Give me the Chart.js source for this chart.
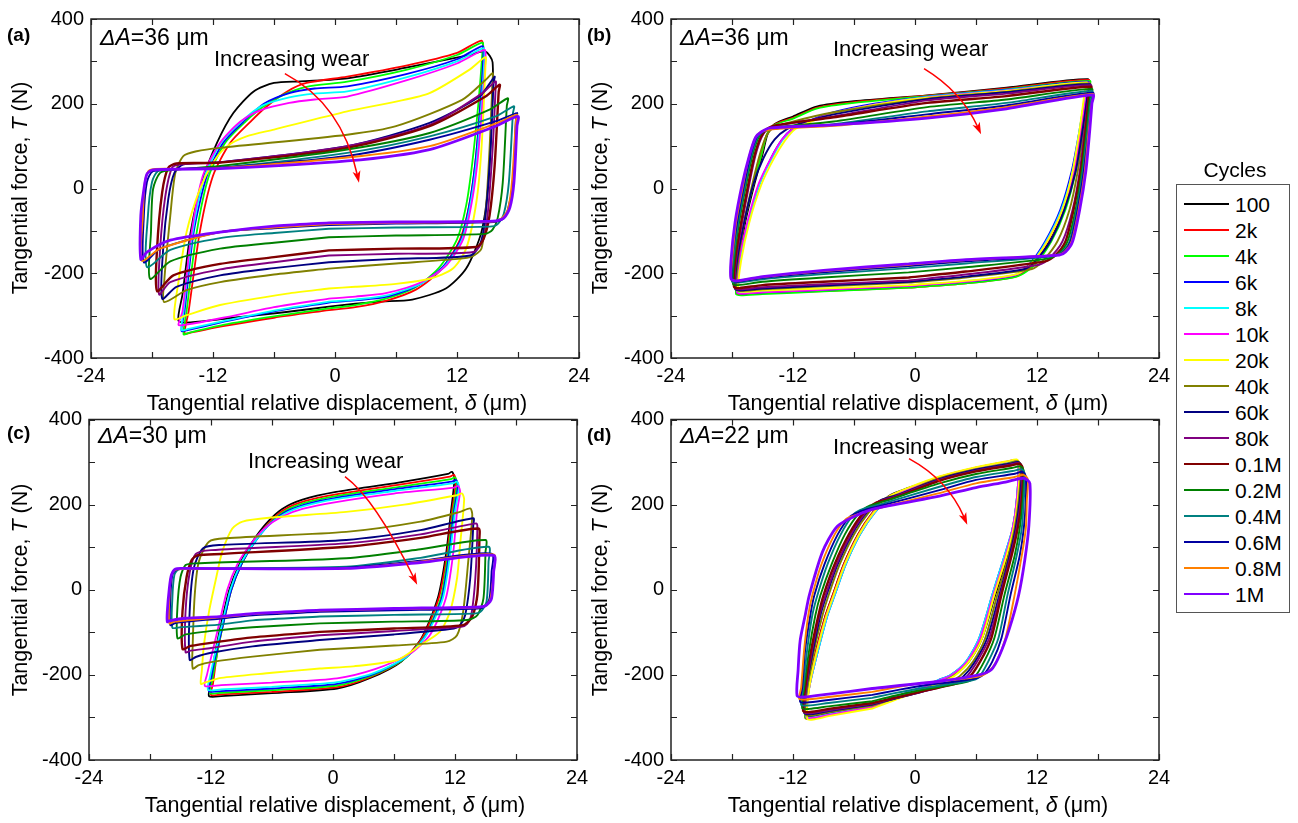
<!DOCTYPE html>
<html><head><meta charset="utf-8">
<script src="https://cdn.jsdelivr.net/npm/chart.js@4.4.1/dist/chart.umd.min.js"></script>
<style>
html,body{margin:0;padding:0;background:#fff}
body{width:1298px;height:823px;overflow:hidden;position:relative;font-family:"Liberation Sans",Arial,sans-serif;color:#000}
canvas{position:absolute}
.t{position:absolute;white-space:nowrap;line-height:1}
.xt{font-size:21.5px;transform:translate(-50%,-50%)}
.yt{font-size:21.5px;transform:translate(-50%,-50%) rotate(-90deg)}
.lt{font-size:19px;font-weight:bold}
.amp{font-size:23px}
.iw{font-size:22px}
#legend{position:absolute;left:1176px;top:184px;width:112px;height:427px;border:1.5px solid #555;z-index:5;background:#fff}
.lline{position:absolute;left:7px;width:45px;height:2px}
.ltxt{position:absolute;left:58px;font-size:21px;line-height:1;white-space:nowrap}
</style></head><body>
<canvas id="ca" width="649" height="411" style="left:0px;top:0px"></canvas>
<canvas id="cb" width="649" height="411" style="left:580px;top:0px"></canvas>
<canvas id="cc" width="649" height="420" style="left:0px;top:400px"></canvas>
<canvas id="cd" width="649" height="420" style="left:580px;top:400px"></canvas>
<div id="legend"></div>
<div class="t" style="left:1235px;top:159px;font-size:21px;transform:translateX(-50%)">Cycles</div>
<div id="labels"></div>
<script>
const CYCLES = ['100','2k','4k','6k','8k','10k','20k','40k','60k','80k','0.1M','0.2M','0.4M','0.6M','0.8M','1M'];
const COLORS = ['#000000','#FF0000','#00FF00','#0000FF','#00FFFF','#FF00FF','#FFFF00','#808000','#000080','#800080','#800000','#008000','#008080','#0000A0','#FF8000','#8000FF'];
const X_TICK_LABELS = [-24,-12,0,12,24];
const Y_TICK_LABELS = [-400,-200,0,200,400];
const PANEL_LETTERS = ['(a)','(b)','(c)','(d)'];
const AMPLITUDES = ['36','36','30','22'];

// Panel (a) loops: flat x,y lists (µm, N)
const LOOPS_A = [
[-0.6,-279,-5,-292,-10,-305,-14.2,-316,-15.4,-312,-15.0,-250,-14.2,-103,-13.1,15,-11.6,108,-10,178,-8,229,-6,249,-3.4,253,1.2,260,7,285,13.2,315,14.8,323,15.5,298,15.4,170,15.1,14,14.4,-103,12.9,-189,10.9,-236,7.6,-262,4.3,-267,2,-272,-0.6,-279],
[-0.6,-287,-6,-305,-11,-325,-14.2,-340,-14.8,-342,-14.4,-290,-13.3,-103,-12,30,-10.3,108,-8.3,158,-6.7,194,-4.7,229,-2.8,249,1.2,264,7,290,12,320,14.4,349,14.6,325,14.3,200,13.8,60,13.2,-40,12.3,-120,10.5,-190,8,-238,5,-265,2,-280,-0.6,-287],
[-0.6,-283,-6,-302,-11,-322,-14.3,-340,-14.9,-344,-14.6,-290,-13.6,-103,-12.4,30,-10.8,108,-8.8,158,-7,194,-5,222,-2.8,240,1.2,252,7,280,12,315,14.5,344,14.5,322,14.1,200,13.5,60,12.9,-40,12.0,-120,10.2,-188,7.8,-235,5,-260,2,-275,-0.6,-283],
[-0.6,-269,-6,-290,-11,-315,-14.5,-334,-15.1,-336,-14.8,-290,-13.9,-103,-12.6,30,-11,108,-9,158,-7,200,-4.5,225,-2,236,1.2,241,7,270,12,305,14.5,336,14.6,316,14.3,200,13.8,60,13.2,-40,12.4,-120,10.6,-185,8.2,-228,5,-256,2,-264,-0.6,-269],
[-0.6,-267,-6,-288,-11,-313,-14.5,-332,-15.1,-334,-14.9,-290,-14.0,-103,-12.8,30,-11.2,108,-9.2,158,-7.2,195,-4.5,215,-2,224,1.2,229,7,262,12,300,14.6,331,14.7,312,14.4,200,13.9,60,13.3,-40,12.5,-120,10.8,-183,8.4,-225,5,-253,2,-262,-0.6,-267],
[-0.6,-260,-6,-280,-11,-305,-14.8,-322,-15.4,-322,-15.0,-290,-14.1,-103,-13,30,-11.3,108,-9.3,158,-7.3,185,-4.5,202,-2,210,1.2,217,7,255,12,295,14.7,327,14.8,308,14.5,200,14.0,60,13.4,-40,12.6,-120,11,-180,8.6,-220,5,-247,2,-255,-0.6,-260],
[-0.6,-236,-4.7,-248,-11.3,-275,-14.6,-299,-15.8,-308,-15.4,-221,-14.6,-103,-13.3,-2,-12,61,-10.6,100,-8.7,123,-6,139,1.2,182,6,205,9.3,225,13.2,280,14.8,310,14.8,290,14.4,92,13.9,-33,12.9,-142,11.6,-189,9.3,-213,6,-225,2,-232,-0.6,-236],
[-0.6,-189,-6,-203,-11.3,-221,-14.6,-240,-16.8,-268,-16.8,-220,-16.2,-64,-15.7,37,-14.9,77,-13.6,88,-11.3,96,1.2,127,6,147,12.5,209,14.8,256,15.5,272,15.5,256,15.2,92,14.8,-64,14.4,-142,13.5,-160,12.1,-166,6,-177,-0.6,-189],
[-0.6,-174,-6,-188,-11.3,-205,-15.6,-232,-17.0,-260,-16.9,-142,-16.4,-25,-15.8,37,-14.9,57,-11.3,62,1.2,100,9.3,155,14.2,217,15.7,264,15.6,250,15.3,92,14.8,-64,14.3,-130,13.3,-158,6,-166,-0.6,-174],
[-0.6,-158,-6,-174,-11.3,-191,-16.2,-221,-17.3,-250,-17.2,-142,-16.7,-20,-16,50,-15,57,-11.3,62,1.2,100,9.3,150,14.5,225,15.8,253,15.8,238,15.5,92,15.0,-64,14.5,-125,13.6,-150,6,-154,-0.6,-158],
[-0.6,-146,-6,-162,-11.3,-178,-15.9,-205,-17.5,-242,-17.5,-142,-17.0,-9,-16.4,49,-15.6,59,-11.3,61,1.2,96,9.3,147,14.8,217,16.2,245,16.1,228,15.7,53,15.2,-64,14.6,-120,13.9,-138,6,-142,-0.6,-146],
[-0.6,-115,-6,-128,-11.3,-142,-16.2,-172,-18.2,-213,-18.1,-103,-17.9,-2,-17.2,37,-15.9,44,-11.3,53,1.2,92,9.3,131,15.2,186,17,213,16.9,195,16.5,14,16,-70,15.5,-97,14.8,-107,6,-111,-0.6,-115],
[-0.6,-95,-6,-105,-11.3,-117,-16.2,-145,-18.5,-185,-18.4,-64,-18,15,-17.4,41,-15,46,-11.3,49,1.2,84,9.3,123,15.8,170,17.6,194,17.5,178,17.1,14,16.6,-60,16,-84,15.2,-90,6,-92,-0.6,-95],
[-0.6,-86,-6,-94,-11.3,-103,-17.2,-142,-18.8,-174,-18.8,-64,-18.5,15,-17.9,41,-15,46,-11.3,49,1.2,77,9.3,115,16,160,17.9,178,17.8,165,17.5,14,17,-50,16.5,-72,15.6,-79,6,-83,-0.6,-86],
[-0.6,-84,-6,-92,-11.3,-103,-17.2,-142,-19,-170,-18.9,-64,-18.7,15,-18.2,44,-15,46,-11.3,48,1.2,73,9.3,100,16,155,17.9,174,17.8,162,17.4,14,17,-50,16.4,-70,15.5,-78,6,-81,-0.6,-84],
[-0.6,-81,-6,-89,-11.3,-103,-16.2,-122,-18.5,-150,-19.1,-167,-19.1,-64,-18.8,-2,-18.5,34,-17.9,44,-11.3,47,1.2,65,9.3,92,15.8,147,18,170,17.9,147,17.6,14,17.2,-45,16.6,-70,15.5,-77,6,-79,-0.6,-81]
];

// Panel (b) loops
const LOOPS_B = [
[-0.6,-232,-9,-240,-15,-244,-17.0,-247,-17.5,-244,-17.3,-170,-16.7,-80,-15.8,10,-15.0,80,-14.5,128,-13.8,152,-12,170,-9.6,194,-6,206,1.2,220,9,238,17,258,16.8,235,16.3,140,15.6,40,14.6,-50,13.2,-125,11.5,-180,9.9,-205,5,-222,-0.6,-232],
[-0.6,-234,-9,-242,-15,-247,-17.1,-250,-17.6,-247,-17.4,-170,-16.8,-80,-15.9,10,-15.1,80,-14.6,126,-13.9,150,-12,167,-9.6,191,-6,204,1.2,219,9,236,17.1,256,16.9,233,16.4,140,15.7,40,14.7,-50,13.3,-125,11.6,-182,9.9,-208,5,-224,-0.6,-234],
[-0.6,-234,-9,-243,-15,-249,-17.1,-252,-17.6,-249,-17.4,-170,-16.8,-80,-15.9,10,-15.1,80,-14.6,126,-13.9,149,-12,165,-9.6,189,-6,202,1.2,218,9,234,17.2,254,17.0,232,16.5,140,15.8,40,14.8,-50,13.4,-125,11.7,-182,10,-208,5,-224,-0.6,-234],
[-0.6,-230,-9,-239,-15,-245,-17.0,-248,-17.5,-245,-17.2,-170,-16.4,-80,-15.3,10,-14.2,70,-13.1,115,-12,142,-10.6,158,-8,180,-4,200,1.2,217,9,233,17.0,252,16.8,230,16.2,140,15.4,40,14.3,-50,12.8,-125,11.2,-180,9.8,-205,5,-220,-0.6,-230],
[-0.6,-229,-9,-238,-15,-244,-17.0,-246,-17.5,-243,-17.2,-170,-16.4,-80,-15.3,10,-14.1,70,-13,115,-11.9,141,-10.5,157,-8,178,-4,198,1.2,216,9,232,17.0,250,16.8,228,16.2,140,15.5,40,14.4,-50,12.9,-125,11.3,-180,9.8,-204,5,-219,-0.6,-229],
[-0.6,-230,-9,-239,-15,-245,-17.0,-248,-17.5,-245,-17.3,-170,-16.5,-80,-15.4,10,-14.2,70,-13.1,115,-12,141,-10.6,157,-8,178,-4,198,1.2,215,9,231,17.1,250,16.9,228,16.3,140,15.6,40,14.5,-50,13,-125,11.4,-180,9.9,-204,5,-220,-0.6,-230],
[-0.6,-228,-9,-236,-15,-241,-16.9,-244,-17.4,-241,-17.1,-170,-16.3,-80,-15.1,10,-13.9,70,-12.8,113,-11.8,140,-10.4,156,-8,176,-4,197,1.2,214,9,230,16.9,250,16.7,228,16.2,140,15.5,40,14.5,-50,13,-125,11.4,-178,10,-202,5,-218,-0.6,-228],
[-0.6,-222,-9,-231,-15,-238,-17.1,-242,-17.6,-239,-17.4,-170,-16.8,-80,-16,10,-15.3,77,-14.7,120,-14,142,-12.5,155,-8,180,1.2,212,9,228,17.2,248,17.0,226,16.6,140,16,40,15.2,-50,14,-125,12.6,-170,11.5,-190,5,-210,-0.6,-222],
[-0.6,-220,-9,-229,-15,-236,-17.2,-240,-17.7,-237,-17.5,-170,-16.8,-80,-15.9,10,-14.9,72,-13.8,116,-12.6,140,-11,156,-8,175,1.2,211,9,227,17.2,246,17.0,224,16.5,140,15.8,40,14.7,-50,13.3,-125,11.8,-172,10.8,-190,5,-208,-0.6,-220],
[-0.6,-217,-9,-226,-15,-233,-17.2,-238,-17.7,-235,-17.6,-170,-17,-80,-16.3,10,-15.7,77,-15.1,120,-14.5,140,-13.2,150,-8,170,1.2,208,9,224,17.3,244,17.1,222,16.7,140,16.2,40,15.5,-50,14.5,-125,13.2,-165,12.2,-180,5,-203,-0.6,-217],
[-0.6,-210,-9,-220,-15,-228,-17.3,-235,-17.8,-232,-17.7,-170,-17.1,-80,-16.4,10,-15.8,77,-15.2,120,-14.6,140,-13.5,150,-8,168,1.2,202,9,218,17.3,240,17.1,218,16.8,140,16.3,40,15.6,-50,14.8,-125,13.8,-158,12.8,-172,5,-196,-0.6,-210],
[-0.6,-198,-9,-210,-15,-220,-17.4,-228,-17.9,-225,-17.8,-170,-17.3,-80,-16.6,10,-16,77,-15.4,120,-14.8,137,-13.5,145,-8,158,1.2,192,9,210,17.4,235,17.2,213,16.9,140,16.4,40,15.8,-50,15,-125,14.2,-152,13.2,-165,5,-186,-0.6,-198],
[-0.6,-188,-9,-202,-15,-214,-17.5,-222,-18,-219,-17.9,-170,-17.4,-80,-16.7,10,-16.1,77,-15.5,120,-14.9,135,-13.5,142,-8,152,1.2,182,9,202,17.4,230,17.3,208,17,140,16.5,40,15.9,-50,15.2,-125,14.5,-150,13.5,-160,5,-177,-0.6,-188],
[-0.6,-183,-9,-198,-15,-211,-17.5,-220,-18,-216,-18,-170,-17.5,-80,-16.8,10,-16.2,77,-15.6,120,-15,134,-13.5,142,-8,150,1.2,175,9,196,17.5,226,17.4,205,17.1,140,16.6,40,16,-50,15.3,-125,14.6,-150,13.8,-158,5,-172,-0.6,-183],
[-0.6,-180,-9,-195,-15,-209,-17.6,-218,-18.1,-214,-18,-170,-17.6,-80,-16.9,10,-16.3,77,-15.7,120,-15.1,134,-13.5,141,-8,148,1.2,170,9,192,17.5,223,17.4,203,17.1,140,16.7,40,16.1,-50,15.4,-125,14.7,-150,14,-157,5,-169,-0.6,-180],
[-0.6,-178,-9,-193,-15,-208,-17.6,-218,-18.1,-213,-18.1,-170,-17.7,-80,-17,10,-16.3,77,-15.7,120,-15.1,134,-14.2,143,-8,150,1.2,166,9,188,17.5,221,17.4,200,17.2,140,16.8,40,16.2,-50,15.5,-125,14.8,-150,14.2,-157,5,-168,-0.6,-178]
];

// Panel (c) loops
const LOOPS_C = [
[-6,-243,-11,-250,-12.2,-250,-12.0,-220,-11.6,-150,-11.0,-80,-10.2,0,-9.2,60,-8,110,-6.6,155,-5,190,-3,212,0.3,230,6,250,11.3,272,11.7,277,11.95,262,11.6,183,11.1,81,10.3,-20,8.7,-114,6.7,-169,3.6,-208,0.4,-232,-6,-243],
[-6,-240,-11,-246,-12.0,-247,-11.8,-220,-11.4,-150,-10.8,-80,-10.0,0,-9.0,60,-7.8,110,-6.4,155,-4.8,188,-2.8,208,0.3,224,6,245,11.5,266,11.9,270,12.1,255,11.7,183,11.2,81,10.4,-20,8.8,-112,6.8,-166,3.7,-205,0.4,-229,-6,-240],
[-6,-236,-11,-242,-12.1,-243,-11.9,-215,-11.4,-150,-10.8,-80,-10.0,0,-9.0,60,-7.8,110,-6.4,152,-4.8,184,-2.8,204,0.3,220,6,240,11.6,260,12.0,264,12.2,250,11.8,183,11.3,81,10.6,-20,9,-110,7,-163,3.8,-202,0.4,-225,-6,-236],
[-6,-232,-11,-238,-12.2,-239,-12.0,-210,-11.5,-150,-10.8,-80,-10.0,0,-9.0,60,-7.8,108,-6.4,150,-4.8,181,-2.8,200,0.3,216,6,236,11.7,254,12.1,258,12.3,245,11.9,183,11.4,81,10.7,-20,9.1,-108,7.1,-160,3.9,-199,0.4,-221,-6,-232],
[-6,-228,-11,-234,-12.3,-235,-12.1,-205,-11.6,-150,-10.9,-80,-10.1,0,-9.1,60,-7.9,106,-6.5,148,-4.8,178,-2.8,197,0.3,213,6,232,11.8,250,12.2,254,12.4,241,12.0,183,11.5,81,10.8,-20,9.2,-106,7.2,-158,4,-196,0.4,-217,-6,-228],
[-6,-218,-11,-224,-12.6,-226,-12.4,-200,-11.9,-150,-11.2,-80,-10.4,0,-9.4,60,-8.2,104,-6.8,143,-5,172,-3,190,0.3,206,6,226,11.9,240,12.3,244,12.5,231,12.2,183,11.8,81,11.1,-20,9.6,-104,7.6,-150,4.2,-186,0.4,-208,-6,-218],
[-6,-195,-11,-207,-12.5,-217,-13,-221,-12.9,-190,-12.7,-130,-12.2,-52,-11.5,27,-10.9,89,-9.9,144,-8.9,160,-6.3,169,1.3,183,7,200,12.2,222,12.7,226,12.9,212,12.5,105,12.2,27,11.5,-52,10.5,-99,8.6,-130,6.3,-165,2,-180,-1.3,-185,-6,-195],
[-1.3,-141,-7.9,-157,-12,-170,-13.2,-177,-13.8,-185,-13.8,-130,-13.6,-12,-13.2,66,-12.2,113,-10.5,121,1.3,136,8.6,160,12.5,183,13.5,191,13.7,175,13.3,66,12.8,-52,12.2,-107,11.2,-122,6,-131,-1.3,-141],
[-1.3,-118,-7.9,-133,-12,-148,-13.5,-158,-14.1,-165,-14.1,-52,-13.7,50,-12.8,97,-11.2,105,1.3,117,8.6,140,13.8,168,13.8,152,13.5,27,13,-60,12.5,-83,11.9,-91,6,-105,-1.3,-118],
[-1.3,-107,-7.9,-122,-12,-137,-14,-143,-14.5,-147,-14.5,-50,-14.1,40,-13.5,84,-12,93,1.3,109,8.6,130,14.1,156,14.2,145,14,27,13.6,-60,13.2,-80,12.6,-87,6,-97,-1.3,-107],
[-1.3,-99,-7.9,-112,-11.2,-122,-14.0,-132,-14.8,-139,-14.8,-50,-14.4,30,-13.9,70,-13.3,81,-11,84,1.3,101,8.6,122,14.3,144,14.4,121,14.2,-12,13.7,-63,12.8,-83,6,-91,-1.3,-99],
[-1.3,-79,-7.9,-88,-11.2,-95,-14.5,-105,-15.3,-114,-15.3,-40,-15,30,-14.5,58,-13.5,62,1.3,74,8.6,95,15,117,15,89,14.8,-20,14.2,-60,13.2,-71,6,-75,-1.3,-79],
[-1.3,-63,-7.9,-72,-11.2,-82,-15,-88,-15.8,-89,-15.8,-20,-15.6,35,-15.2,48,-14,50,1.3,54,8.6,75,15.3,101,15.3,66,15.1,-28,14.5,-52,13.8,-56,6,-59,-1.3,-63],
[-1.3,-52,-7.9,-60,-11.2,-68,-15.5,-78,-16,-83,-16,-20,-15.8,35,-15.4,47,-14,49,1.3,52,8.6,68,15.6,85,15.6,42,15.4,-20,15,-38,14.2,-44,6,-48,-1.3,-52],
[-1.3,-49,-7.9,-57,-11.2,-65,-15.6,-75,-16.1,-79,-16.1,-20,-15.9,35,-15.5,47,-14,49,1.3,50,8.6,66,15.8,83,15.8,42,15.5,-20,15.1,-36,14.4,-41,6,-45,-1.3,-49],
[-1.3,-48,-7.9,-56,-11.2,-63,-14.5,-67,-16.1,-73,-16.3,-75,-16.3,-52,-16.1,3,-15.9,34,-15.5,49,-14.5,50,1.3,50,8.6,64,15.8,81,15.8,42,15.6,-20,15.1,-36,14.5,-40,6,-44,-1.3,-48]
];

// Panel (d) loops
const LOOPS_D = [
[-4.2,-270,-8.5,-290,-10.1,-298,-10.8,-296,-10.5,-230,-9.7,-140,-8.8,-60,-8.1,-13,-7.0,60,-5.6,130,-4.2,180,-2.6,220,-0.8,238,2.4,262,6,283,9.1,298,10.0,302,10.3,291,10.1,210,9.8,144,9.1,80,7.9,-12,6.6,-114,5.3,-169,3.9,-200,2.8,-212,0.5,-232,-2,-252,-4.2,-270],
[-4.2,-275,-8.5,-294,-10.1,-303,-10.8,-301,-10.5,-230,-9.7,-140,-8.8,-60,-8.1,-13,-7.0,60,-5.6,130,-4.2,180,-2.5,220,-0.6,238,2.4,265,6,287,9.1,301,10.0,305,10.3,294,10.1,210,9.7,144,9.0,80,7.8,-12,6.5,-114,5.2,-169,3.8,-200,2.6,-213,0.5,-234,-2,-255,-4.2,-275],
[-4.2,-275,-8.5,-294,-10.1,-302,-10.8,-300,-10.5,-230,-9.6,-140,-8.7,-60,-8.0,-13,-6.9,60,-5.5,130,-4.1,180,-2.4,220,-0.6,238,2.4,264,6,286,9.0,300,9.9,304,10.2,293,10.0,210,9.6,144,8.9,80,7.7,-12,6.4,-114,5.1,-169,3.7,-200,2.5,-213,0.4,-234,-2,-255,-4.2,-275],
[-4.2,-273,-8.5,-292,-10.0,-300,-10.7,-298,-10.4,-230,-9.5,-140,-8.6,-60,-7.9,-13,-6.8,60,-5.4,130,-4.0,180,-2.3,220,-0.4,238,2.4,263,6,285,9.0,300,9.9,304,10.2,293,10.0,210,9.6,144,8.8,80,7.6,-12,6.3,-114,5.0,-169,3.5,-200,2.3,-212,0.3,-232,-2,-253,-4.2,-273],
[-4.2,-274,-8.5,-293,-10.0,-300,-10.7,-298,-10.4,-230,-9.5,-140,-8.6,-60,-7.9,-13,-6.8,60,-5.4,130,-4.0,180,-2.3,220,-0.4,238,2.4,264,6,286,9.0,300,9.9,304,10.2,293,10.0,210,9.6,144,8.8,80,7.6,-12,6.3,-114,5.0,-169,3.5,-200,2.3,-212,0.3,-233,-2,-254,-4.2,-274],
[-4.2,-275,-8.5,-294,-10.1,-301,-10.7,-299,-10.4,-230,-9.6,-140,-8.7,-60,-8.0,-13,-6.9,60,-5.5,130,-4.1,180,-2.4,220,-0.5,238,2.4,265,6,287,9.0,301,9.9,305,10.2,294,10.0,210,9.6,144,8.9,80,7.7,-12,6.4,-114,5.1,-169,3.6,-200,2.4,-213,0.4,-234,-2,-255,-4.2,-275],
[-4.2,-279,-8.5,-297,-10.0,-305,-10.6,-303,-10.4,-230,-9.6,-140,-8.7,-60,-8.0,-13,-6.9,60,-5.5,130,-4.1,180,-2.5,220,-0.6,240,2.4,266,6,288,9.1,302,10.0,306,10.3,295,10.1,210,9.7,144,9.0,80,7.8,-12,6.6,-114,5.3,-169,3.9,-202,2.8,-215,0.5,-238,-2,-259,-4.2,-279],
[-4.2,-272,-8.5,-288,-10.1,-295,-10.8,-293,-10.6,-230,-9.9,-140,-9.1,-60,-8.5,-13,-7.4,60,-6.0,130,-4.6,180,-3.2,212,-1.5,225,2.4,262,6,283,9.2,297,10.1,302,10.4,291,10.2,210,9.8,144,9.2,80,8.1,-12,6.9,-114,5.7,-169,4.4,-203,3.4,-216,0.5,-240,-2,-256,-4.2,-272],
[-4.2,-270,-8.5,-285,-10.2,-292,-10.9,-290,-10.7,-230,-10.0,-140,-9.3,-60,-8.7,-13,-7.6,60,-6.2,130,-4.8,180,-3.4,210,-1.8,222,2.4,260,6,282,9.3,296,10.2,300,10.5,289,10.3,210,9.9,144,9.3,80,8.3,-12,7.1,-114,5.9,-169,4.7,-205,3.8,-217,0.5,-241,-2,-256,-4.2,-270],
[-4.2,-268,-8.5,-283,-10.2,-290,-10.9,-288,-10.7,-230,-10.1,-140,-9.4,-60,-8.8,-13,-7.7,60,-6.3,130,-4.9,180,-3.6,207,-2,219,2.4,258,6,280,9.3,294,10.2,298,10.5,287,10.4,210,10.0,144,9.4,80,8.4,-12,7.3,-114,6.1,-169,5.0,-206,4.1,-218,0.5,-241,-2,-255,-4.2,-268],
[-4.2,-266,-8.5,-280,-10.3,-287,-11.0,-285,-10.8,-230,-10.2,-140,-9.5,-60,-9.0,-13,-7.9,60,-6.5,130,-5.1,180,-3.8,205,-2.2,215,2.4,256,6,278,9.4,292,10.3,296,10.6,285,10.5,210,10.1,144,9.5,80,8.5,-12,7.5,-114,6.4,-169,5.3,-207,4.4,-218,0.5,-240,-2,-254,-4.2,-266],
[-4.2,-262,-8.5,-274,-10.4,-280,-11.1,-278,-10.9,-230,-10.4,-140,-9.8,-60,-9.3,-13,-8.2,60,-6.9,130,-5.5,180,-4.4,198,-3,208,2.4,250,6,272,9.5,286,10.4,290,10.7,279,10.6,210,10.3,144,9.8,80,8.8,-12,7.8,-114,6.8,-169,5.8,-207,5.0,-217,0.5,-236,-2,-249,-4.2,-262],
[-4.2,-254,-8.5,-266,-10.5,-272,-11.2,-270,-11.0,-230,-10.6,-140,-10.1,-60,-9.6,-13,-8.6,60,-7.3,130,-6.0,178,-5.1,190,-3.5,200,2.4,242,6,265,9.6,279,10.5,283,10.8,272,10.7,210,10.5,144,10.0,80,9.1,-12,8.2,-114,7.2,-169,6.3,-205,5.4,-214,0.5,-232,-2,-243,-4.2,-254],
[-4.2,-247,-8.5,-259,-10.6,-265,-11.3,-263,-11.1,-230,-10.8,-140,-10.3,-60,-9.9,-13,-8.9,60,-7.6,130,-6.4,172,-5.6,182,-4.2,192,2.4,234,6,258,9.7,272,10.6,277,10.9,266,10.9,210,10.7,144,10.3,80,9.4,-12,8.5,-114,7.6,-169,6.7,-200,5.7,-210,0.5,-226,-2,-237,-4.2,-247],
[-4.2,-240,-8.5,-252,-10.7,-258,-11.4,-256,-11.2,-230,-10.9,-140,-10.5,-60,-10.1,-13,-9.2,60,-7.9,130,-6.8,166,-6.0,174,-4.2,188,2.4,227,6,250,9.8,265,10.7,270,11.1,259,11.0,210,10.9,144,10.5,80,9.8,-12,8.9,-114,8.0,-169,7.1,-195,6.0,-205,0.5,-220,-2,-230,-4.2,-240],
[-4.2,-232,-8.5,-245,-10.9,-252,-11.6,-249,-11.5,-190,-11.3,-120,-10.8,-60,-10.4,-13,-9.1,89,-7.8,145,-6.5,166,-4.2,189,2.4,220,6,240,8.9,253,10.7,262,11.3,250,11.2,150,10.8,70,10.2,-12,9.3,-90,8.3,-155,7.5,-188,6.3,-200,2.4,-215,-4.2,-232]
];

// "Increasing wear" arrows: start, quadratic control, tip (data coords)
const ARROW_A = [[-4.93,271],[0.69,199],[2.36,13.4]];
const ARROW_B = [[0.89,283],[4.58,229],[6.5,128]];
const ARROW_C = [[1.18,266],[4.14,214],[8.28,11.8]];
const ARROW_D = [[-0.59,308],[3.25,258],[5.14,153]];

const WIDTHS = [1.8,1.8,1.8,1.8,1.8,1.8,1.9,1.9,1.9,1.9,2.4,1.9,1.9,1.9,1.9,2.8];

Chart.defaults.font.family = "'Liberation Sans', Arial, sans-serif";
Chart.defaults.color = '#000';

function toPts(flat){ const p=[]; for(let i=0;i<flat.length;i+=2) p.push({x:flat[i],y:flat[i+1]}); return p; }

const framePlugin = {
  id:'frame',
  afterDatasetsDraw(chart, args, opts){
    const {ctx, chartArea:a, scales:{x,y}} = chart;
    ctx.save();
    const ar = opts.arrow;
    if (ar){
      const P = ar.map(p=>[x.getPixelForValue(p[0]), y.getPixelForValue(p[1])]);
      ctx.strokeStyle='#FF0000'; ctx.fillStyle='#FF0000'; ctx.lineWidth=1.5;
      const ang = Math.atan2(P[2][1]-P[1][1], P[2][0]-P[1][0]);
      const back = 12;
      const bx = P[2][0]-back*Math.cos(ang), by = P[2][1]-back*Math.sin(ang);
      ctx.beginPath(); ctx.moveTo(P[0][0],P[0][1]); ctx.quadraticCurveTo(P[1][0],P[1][1],bx+4*Math.cos(ang),by+4*Math.sin(ang)); ctx.stroke();
      ctx.beginPath();
      ctx.moveTo(P[2][0],P[2][1]);
      ctx.lineTo(bx+4*Math.cos(ang+Math.PI/2), by+4*Math.sin(ang+Math.PI/2));
      ctx.lineTo(bx+3.2*Math.cos(ang), by+3.2*Math.sin(ang));
      ctx.lineTo(bx+4*Math.cos(ang-Math.PI/2), by+4*Math.sin(ang-Math.PI/2));
      ctx.closePath(); ctx.fill();
    }
    ctx.strokeStyle='#222'; ctx.lineWidth=1.5;
    ctx.strokeRect(a.left, a.top, a.right-a.left, a.bottom-a.top);
    ctx.beginPath();
    x.ticks.forEach(t=>{ const px=Math.round(x.getPixelForValue(t.value))+0.5; ctx.moveTo(px,a.bottom); ctx.lineTo(px,a.bottom-6); ctx.moveTo(px,a.top); ctx.lineTo(px,a.top+6); });
    y.ticks.forEach(t=>{ const py=Math.round(y.getPixelForValue(t.value))+0.5; ctx.moveTo(a.left,py); ctx.lineTo(a.left+6,py); ctx.moveTo(a.right,py); ctx.lineTo(a.right-6,py); });
    ctx.lineWidth=1.2; ctx.stroke();
    ctx.restore();
  }
};

const PANELS = [
  {id:'ca', loops:LOOPS_A, arrow:ARROW_A, pad:{left:41,right:70,top:17,bottom:23}},
  {id:'cb', loops:LOOPS_B, arrow:ARROW_B, pad:{left:41,right:70,top:17,bottom:23}},
  {id:'cc', loops:LOOPS_C, arrow:ARROW_C, pad:{left:39,right:72,top:19.5,bottom:30}},
  {id:'cd', loops:LOOPS_D, arrow:ARROW_D, pad:{left:41,right:70,top:19.5,bottom:30}}
];

PANELS.forEach(P=>{
  const datasets = P.loops.map((L,i)=>({
    label: CYCLES[i], data: toPts(L), borderColor: COLORS[i], backgroundColor: COLORS[i],
    borderWidth: WIDTHS[i], pointRadius:0, pointHoverRadius:0, showLine:true, tension:0.25,
    fill:false, order:-i, borderJoinStyle:'round', borderCapStyle:'round'
  }));
  new Chart(document.getElementById(P.id), {
    type:'scatter',
    data:{datasets},
    plugins:[framePlugin],
    options:{
      responsive:false, animation:false, devicePixelRatio:1,
      layout:{padding:P.pad},
      plugins:{legend:{display:false}, tooltip:{enabled:false}, frame:{arrow:P.arrow}},
      scales:{
        x:{type:'linear', min:-24, max:24,
           afterFit:s=>{s.height=30;},
           grid:{display:false, drawTicks:false}, border:{display:false},
           ticks:{stepSize:6, autoSkip:false, maxRotation:0, padding:6, font:{size:20}, color:'#000',
             callback:v=> X_TICK_LABELS.includes(v) ? String(v) : ''}},
        y:{type:'linear', min:-400, max:400,
           afterFit:s=>{s.width=50;},
           grid:{display:false, drawTicks:false}, border:{display:false},
           ticks:{stepSize:100, autoSkip:false, padding:7, font:{size:20}, color:'#000',
             callback:v=> Y_TICK_LABELS.includes(v) ? String(v) : ''}}
      }
    }
  });
});

// Text overlays
const LAB = document.getElementById('labels');
function addText(html, cls, left, top){ const d=document.createElement('div'); d.className='t '+cls; d.style.left=left+'px'; d.style.top=top+'px'; d.innerHTML=html; LAB.appendChild(d); }
const POS = [
  {letter:[7,25], amp:[100,25.5], iw:[214,48], xt:[337,404], yt:[21,188]},
  {letter:[587,25], amp:[680,25.5], iw:[833,38], xt:[918,404], yt:[601,188]},
  {letter:[7,423], amp:[98,424], iw:[248,450], xt:[335,806], yt:[21,590]},
  {letter:[587,425], amp:[680,424], iw:[833,436], xt:[918,806], yt:[601,590]}
];
POS.forEach((p,i)=>{
  addText(PANEL_LETTERS[i],'lt',p.letter[0],p.letter[1]);
  addText('<i>ΔA</i>='+AMPLITUDES[i]+' μm','amp',p.amp[0],p.amp[1]);
  addText('Increasing wear','iw',p.iw[0],p.iw[1]);
  addText('Tangential relative displacement, <i>δ</i> (μm)','xt',p.xt[0],p.xt[1]);
  addText('Tangential force, <i>T</i> (N)','yt',p.yt[0],p.yt[1]);
});

// Legend
const LEG = document.getElementById('legend');
CYCLES.forEach((c,i)=>{
  const cy = 19.3 + 26*i;
  const ln = document.createElement('div'); ln.className='lline'; ln.style.top=(cy-1)+'px'; ln.style.background=COLORS[i]; LEG.appendChild(ln);
  const tx = document.createElement('div'); tx.className='ltxt'; tx.style.top=(cy-10.3)+'px'; tx.textContent=c; LEG.appendChild(tx);
});
</script>
</body></html>
